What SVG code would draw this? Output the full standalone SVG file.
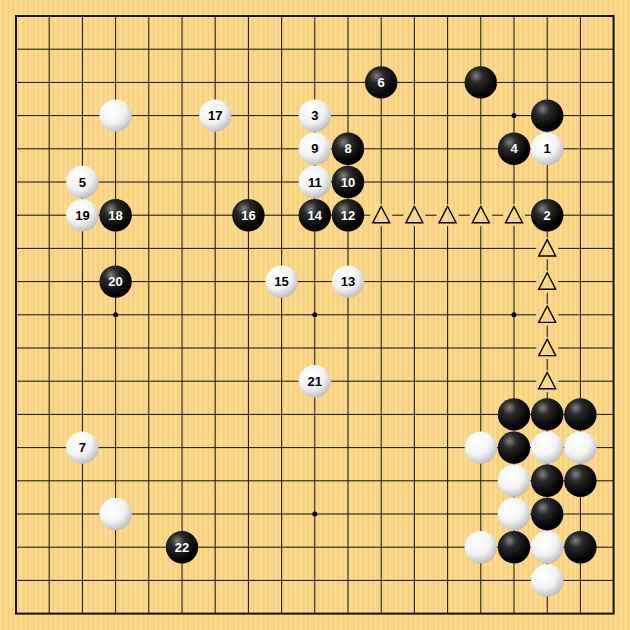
<svg xmlns="http://www.w3.org/2000/svg" width="630" height="630" viewBox="0 0 630 630">
<defs>
<pattern id="wood" x="0" y="0" width="5" height="630" patternUnits="userSpaceOnUse">
<rect width="5" height="630" fill="#F8D685"/>
<rect x="0" width="1" height="630" fill="#FADE9A"/>
<rect x="3" width="1" height="630" fill="#F5CF78"/>
</pattern>
<radialGradient id="gb" cx="0.36" cy="0.3" r="0.72">
<stop offset="0" stop-color="#808080"/>
<stop offset="0.3" stop-color="#2a2a2a"/>
<stop offset="0.8" stop-color="#050505"/>
<stop offset="1" stop-color="#000"/>
</radialGradient>
<radialGradient id="gw" cx="0.38" cy="0.32" r="0.75">
<stop offset="0" stop-color="#ffffff"/>
<stop offset="0.55" stop-color="#f3f3f3"/>
<stop offset="1" stop-color="#b4b4b4"/>
</radialGradient>
<style>
.b{fill:url(#gb);}
.w{fill:url(#gw);}
.g{stroke:#111;stroke-width:1;fill:none;}
.bd{stroke:#111;stroke-width:2;fill:none;}
.er{fill:url(#wood);}
.tri{fill:none;stroke:#000;stroke-width:1.4;stroke-linejoin:miter;}
.hs{fill:#000;}
text{font-family:"Liberation Sans",Arial,sans-serif;font-weight:bold;font-size:13px;text-anchor:middle;}
.tb{fill:#fff;}
.tw{fill:#000;}
</style>
</defs>
<rect width="630" height="630" fill="url(#wood)"/>
<g id="grid">
<path class="g" d="M49.2 16V613.6M82.4 16V613.6M115.6 16V613.6M148.8 16V613.6M182 16V613.6M215.2 16V613.6M248.4 16V613.6M281.6 16V613.6M314.8 16V613.6M348 16V613.6M381.2 16V613.6M414.4 16V613.6M447.6 16V613.6M480.8 16V613.6M514 16V613.6M547.2 16V613.6M580.4 16V613.6M16 49.2H613.6M16 82.4H613.6M16 115.6H613.6M16 148.8H613.6M16 182H613.6M16 215.2H613.6M16 248.4H613.6M16 281.6H613.6M16 314.8H613.6M16 348H613.6M16 381.2H613.6M16 414.4H613.6M16 447.6H613.6M16 480.8H613.6M16 514H613.6M16 547.2H613.6M16 580.4H613.6"/>
<rect class="bd" x="16" y="16" width="597.6" height="597.6"/>
<circle class="hs" cx="115.6" cy="115.6" r="2.5"/>
<circle class="hs" cx="314.8" cy="115.6" r="2.5"/>
<circle class="hs" cx="514" cy="115.6" r="2.5"/>
<circle class="hs" cx="115.6" cy="314.8" r="2.5"/>
<circle class="hs" cx="314.8" cy="314.8" r="2.5"/>
<circle class="hs" cx="514" cy="314.8" r="2.5"/>
<circle class="hs" cx="115.6" cy="514" r="2.5"/>
<circle class="hs" cx="314.8" cy="514" r="2.5"/>
<circle class="hs" cx="514" cy="514" r="2.5"/>
</g>
<g id="markers">
<g id="m-l6"><rect class="er" x="370.2" y="204.2" width="22" height="22"/><path class="tri" d="M381.2 206.4L372.7 222.8H389.7Z"/></g>
<g id="m-m6"><rect class="er" x="403.4" y="204.2" width="22" height="22"/><path class="tri" d="M414.4 206.4L405.9 222.8H422.9Z"/></g>
<g id="m-n6"><rect class="er" x="436.6" y="204.2" width="22" height="22"/><path class="tri" d="M447.6 206.4L439.1 222.8H456.1Z"/></g>
<g id="m-o6"><rect class="er" x="469.8" y="204.2" width="22" height="22"/><path class="tri" d="M480.8 206.4L472.3 222.8H489.3Z"/></g>
<g id="m-p6"><rect class="er" x="503" y="204.2" width="22" height="22"/><path class="tri" d="M514 206.4L505.5 222.8H522.5Z"/></g>
<g id="m-q7"><rect class="er" x="536.2" y="237.4" width="22" height="22"/><path class="tri" d="M547.2 239.6L538.7 256H555.7Z"/></g>
<g id="m-q8"><rect class="er" x="536.2" y="270.6" width="22" height="22"/><path class="tri" d="M547.2 272.8L538.7 289.2H555.7Z"/></g>
<g id="m-q9"><rect class="er" x="536.2" y="303.8" width="22" height="22"/><path class="tri" d="M547.2 306L538.7 322.4H555.7Z"/></g>
<g id="m-q10"><rect class="er" x="536.2" y="337" width="22" height="22"/><path class="tri" d="M547.2 339.2L538.7 355.6H555.7Z"/></g>
<g id="m-q11"><rect class="er" x="536.2" y="370.2" width="22" height="22"/><path class="tri" d="M547.2 372.4L538.7 388.8H555.7Z"/></g>
</g>
<g id="stones">
<g id="s6"><circle class="b" cx="381.2" cy="82.4" r="16.2"/><text class="tb" x="381.2" y="87">6</text></g>
<g id="sb-o2"><circle class="b" cx="480.8" cy="82.4" r="16.2"/></g>
<g id="sw-d3"><circle class="w" cx="115.6" cy="115.6" r="16.2"/></g>
<g id="s17"><circle class="w" cx="215.2" cy="115.6" r="16.2"/><text class="tw" x="215.2" y="120.2">17</text></g>
<g id="s3"><circle class="w" cx="314.8" cy="115.6" r="16.2"/><text class="tw" x="314.8" y="120.2">3</text></g>
<g id="sb-q3"><circle class="b" cx="547.2" cy="115.6" r="16.2"/></g>
<g id="s9"><circle class="w" cx="314.8" cy="148.8" r="16.2"/><text class="tw" x="314.8" y="153.4">9</text></g>
<g id="s8"><circle class="b" cx="348" cy="148.8" r="16.2"/><text class="tb" x="348" y="153.4">8</text></g>
<g id="s4"><circle class="b" cx="514" cy="148.8" r="16.2"/><text class="tb" x="514" y="153.4">4</text></g>
<g id="s1"><circle class="w" cx="547.2" cy="148.8" r="16.2"/><text class="tw" x="547.2" y="153.4">1</text></g>
<g id="s5"><circle class="w" cx="82.4" cy="182" r="16.2"/><text class="tw" x="82.4" y="186.6">5</text></g>
<g id="s11"><circle class="w" cx="314.8" cy="182" r="16.2"/><text class="tw" x="314.8" y="186.6">11</text></g>
<g id="s10"><circle class="b" cx="348" cy="182" r="16.2"/><text class="tb" x="348" y="186.6">10</text></g>
<g id="s19"><circle class="w" cx="82.4" cy="215.2" r="16.2"/><text class="tw" x="82.4" y="219.8">19</text></g>
<g id="s18"><circle class="b" cx="115.6" cy="215.2" r="16.2"/><text class="tb" x="115.6" y="219.8">18</text></g>
<g id="s16"><circle class="b" cx="248.4" cy="215.2" r="16.2"/><text class="tb" x="248.4" y="219.8">16</text></g>
<g id="s14"><circle class="b" cx="314.8" cy="215.2" r="16.2"/><text class="tb" x="314.8" y="219.8">14</text></g>
<g id="s12"><circle class="b" cx="348" cy="215.2" r="16.2"/><text class="tb" x="348" y="219.8">12</text></g>
<g id="s2"><circle class="b" cx="547.2" cy="215.2" r="16.2"/><text class="tb" x="547.2" y="219.8">2</text></g>
<g id="s20"><circle class="b" cx="115.6" cy="281.6" r="16.2"/><text class="tb" x="115.6" y="286.2">20</text></g>
<g id="s15"><circle class="w" cx="281.6" cy="281.6" r="16.2"/><text class="tw" x="281.6" y="286.2">15</text></g>
<g id="s13"><circle class="w" cx="348" cy="281.6" r="16.2"/><text class="tw" x="348" y="286.2">13</text></g>
<g id="s21"><circle class="w" cx="314.8" cy="381.2" r="16.2"/><text class="tw" x="314.8" y="385.8">21</text></g>
<g id="sb-p12"><circle class="b" cx="514" cy="414.4" r="16.2"/></g>
<g id="sb-q12"><circle class="b" cx="547.2" cy="414.4" r="16.2"/></g>
<g id="sb-r12"><circle class="b" cx="580.4" cy="414.4" r="16.2"/></g>
<g id="s7"><circle class="w" cx="82.4" cy="447.6" r="16.2"/><text class="tw" x="82.4" y="452.2">7</text></g>
<g id="sw-o13"><circle class="w" cx="480.8" cy="447.6" r="16.2"/></g>
<g id="sb-p13"><circle class="b" cx="514" cy="447.6" r="16.2"/></g>
<g id="sw-q13"><circle class="w" cx="547.2" cy="447.6" r="16.2"/></g>
<g id="sw-r13"><circle class="w" cx="580.4" cy="447.6" r="16.2"/></g>
<g id="sw-p14"><circle class="w" cx="514" cy="480.8" r="16.2"/></g>
<g id="sb-q14"><circle class="b" cx="547.2" cy="480.8" r="16.2"/></g>
<g id="sb-r14"><circle class="b" cx="580.4" cy="480.8" r="16.2"/></g>
<g id="sw-d15"><circle class="w" cx="115.6" cy="514" r="16.2"/></g>
<g id="sw-p15"><circle class="w" cx="514" cy="514" r="16.2"/></g>
<g id="sb-q15"><circle class="b" cx="547.2" cy="514" r="16.2"/></g>
<g id="s22"><circle class="b" cx="182" cy="547.2" r="16.2"/><text class="tb" x="182" y="551.8">22</text></g>
<g id="sw-o16"><circle class="w" cx="480.8" cy="547.2" r="16.2"/></g>
<g id="sb-p16"><circle class="b" cx="514" cy="547.2" r="16.2"/></g>
<g id="sw-q16"><circle class="w" cx="547.2" cy="547.2" r="16.2"/></g>
<g id="sb-r16"><circle class="b" cx="580.4" cy="547.2" r="16.2"/></g>
<g id="sw-q17"><circle class="w" cx="547.2" cy="580.4" r="16.2"/></g>
</g>
</svg>
